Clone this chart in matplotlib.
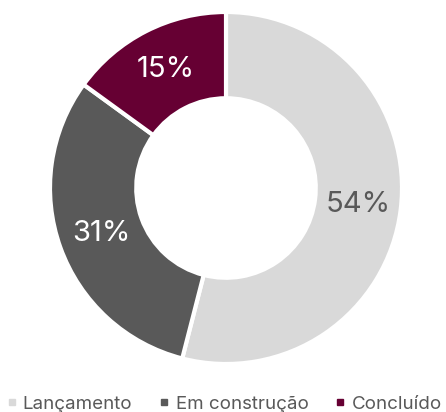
import matplotlib
matplotlib.use("Agg")
from matplotlib import pyplot as plt
from matplotlib.lines import Line2D

# dados do grafico
categorias = ["Lançamento", "Em construção", "Concluído"]
valores = [54, 31, 15]
cores = ["#d9d9d9", "#595959", "#660033"]
cores_texto = ["#595959", "white", "white"]

plt.rcParams['font.family'] = ['Inter', 'DejaVu Sans']

fig = plt.figure(figsize=(4.46, 4.12), dpi=100)
# eixo posicionado para o anel ficar centrado em (226, 188) px, raio ~176 px
ax = fig.add_axes([50/446, 48/412, 352/446, 352/412])

wedges, textos, autotextos = ax.pie(
    valores, colors=cores, startangle=90, counterclock=False,
    autopct=lambda p: f"{p:.0f}%", pctdistance=0.755, radius=1,
    wedgeprops=dict(width=0.49, edgecolor="white", linewidth=3))

for t, c in zip(autotextos, cores_texto):
    t.set_color(c)
    t.set_fontsize(21)
    t.set_fontweight("normal")

ax.set_xlim(-1, 1)
ax.set_ylim(-1, 1)
ax.set_aspect("equal")
ax.axis("off")

handles = [Line2D([0], [0], marker="s", linestyle="", markersize=5,
                  markerfacecolor=c, markeredgecolor=c) for c in cores]
leg = fig.legend(handles, categorias, loc="center", bbox_to_anchor=(0.5, 1 - 404/412),
                 ncol=3, frameon=False, fontsize=13.5, handletextpad=0.2,
                 columnspacing=1.3, handlelength=0.8)
for t in leg.get_texts():
    t.set_color("#595959")

fig.savefig("out.png", dpi=100)
